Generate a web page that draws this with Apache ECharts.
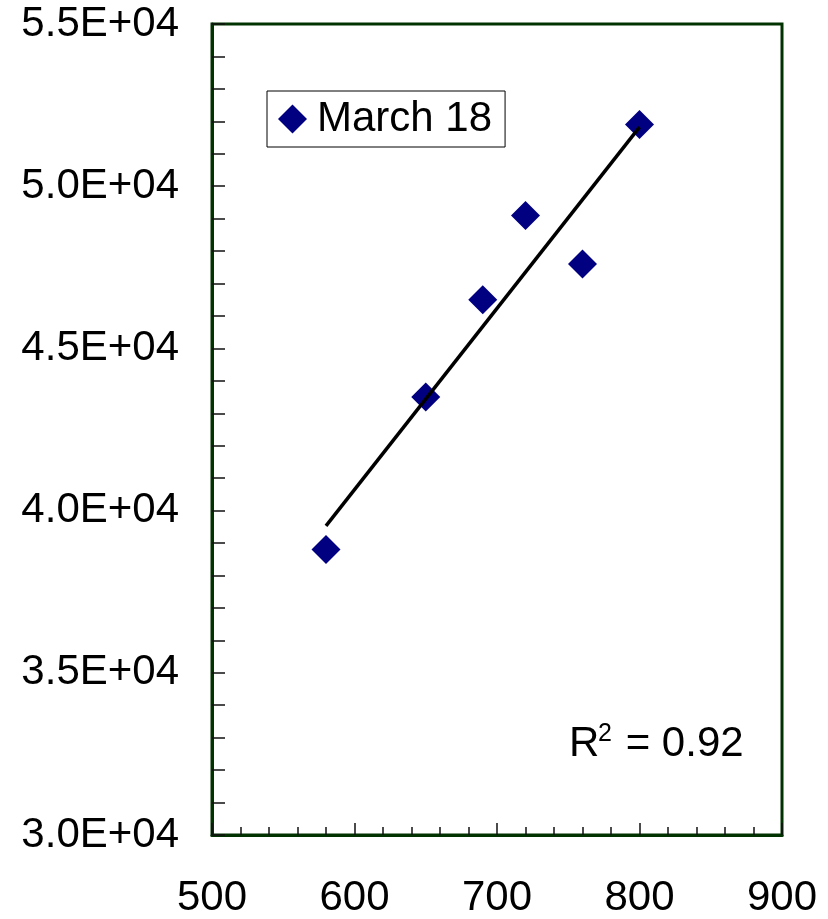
<!DOCTYPE html>
<html>
<head>
<meta charset="utf-8">
<script src="https://cdn.jsdelivr.net/npm/echarts@6/dist/echarts.min.js"></script>
<style>
  html, body { margin: 0; padding: 0; background: #fff; }
  #chart { width: 828px; height: 919px; }
</style>
</head>
<body>
<div id="chart"></div>
<script>
// Observations for March 18
const seriesName = 'March 18';
const xValues = [580, 650, 690, 720, 760, 800];
const yValues = [38800, 43500, 46500, 49100, 47600, 51900];

// Axis ranges
const xTicks = [500, 600, 700, 800, 900];
const yTicks = [30000, 35000, 40000, 45000, 50000, 55000];

// Least-squares fit of the observations
function linearFit(xs, ys) {
  const n = xs.length;
  const mx = xs.reduce((a, b) => a + b, 0) / n;
  const my = ys.reduce((a, b) => a + b, 0) / n;
  let sxy = 0, sxx = 0, syy = 0;
  for (let i = 0; i < n; i++) {
    sxy += (xs[i] - mx) * (ys[i] - my);
    sxx += (xs[i] - mx) ** 2;
    syy += (ys[i] - my) ** 2;
  }
  const slope = sxy / sxx;
  const intercept = my - slope * mx;
  return { slope, intercept, r2: (sxy * sxy) / (sxx * syy) };
}

const fit = linearFit(xValues, yValues);
const xMin = Math.min(...xValues), xMax = Math.max(...xValues);
const fitLine = [
  [xMin, fit.slope * xMin + fit.intercept],
  [xMax, fit.slope * xMax + fit.intercept]
];

function sciLabel(v) {
  if (v === 0) return '0.0E+00';
  const e = Math.floor(Math.log10(Math.abs(v)));
  const m = v / Math.pow(10, e);
  const es = (e < 0 ? '-' : '+') + String(Math.abs(e)).padStart(2, '0');
  return m.toFixed(1) + 'E' + es;
}

const FONT = 'Liberation Sans, Arial, sans-serif';
const FS = 42;
const FRAME = '#003300';
const MARK = '#000080';

const chart = echarts.init(document.getElementById('chart'), null, { renderer: 'canvas' });

chart.setOption({
  animation: false,
  backgroundColor: '#ffffff',
  grid: {
    left: 212, top: 24, right: 46, bottom: 82,
    show: true, borderColor: FRAME, borderWidth: 3, backgroundColor: '#ffffff'
  },
  legend: {
    data: [seriesName],
    left: 267, top: 91,
    orient: 'horizontal',
    icon: 'diamond',
    itemWidth: 29, itemHeight: 29,
    padding: [7, 13, 7, 11],
    borderColor: '#000', borderWidth: 1,
    backgroundColor: '#fff',
    itemStyle: { color: MARK, opacity: 1 },
    textStyle: { fontFamily: FONT, fontSize: FS, color: '#000', padding: [0, 0, 0, 5] }
  },
  xAxis: {
    type: 'value',
    min: xTicks[0], max: xTicks[xTicks.length - 1], interval: 100,
    splitLine: { show: false },
    axisLine: { show: true, lineStyle: { color: FRAME, width: 3 } },
    axisTick: { show: true, inside: true, length: 12, lineStyle: { color: '#111', width: 1.5 } },
    minorTick: { show: true, splitNumber: 5, length: 8, lineStyle: { color: '#111', width: 1.5 } },
    axisLabel: { fontFamily: FONT, fontSize: FS, color: '#000', margin: 42 }
  },
  yAxis: {
    type: 'value',
    min: yTicks[0], max: yTicks[yTicks.length - 1], interval: 5000,
    splitLine: { show: false },
    axisLine: { show: true, lineStyle: { color: FRAME, width: 3 } },
    axisTick: { show: true, inside: true, length: 13, lineStyle: { color: '#111', width: 1.5 } },
    minorTick: { show: true, splitNumber: 5, length: 13, lineStyle: { color: '#111', width: 1.5 } },
    axisLabel: { fontFamily: FONT, fontSize: FS, color: '#000', margin: 33, formatter: sciLabel }
  },
  series: [
    {
      name: seriesName,
      type: 'scatter',
      symbol: 'diamond',
      symbolSize: 29,
      itemStyle: { color: MARK, opacity: 1 },
      data: xValues.map((x, i) => [x, yValues[i]]),
      z: 2
    },
    {
      name: 'Linear fit',
      type: 'line',
      data: fitLine,
      showSymbol: false,
      symbol: 'none',
      lineStyle: { color: '#000', width: 3.5 },
      z: 3
    }
  ],
  graphic: [
    {
      type: 'text', left: 569, top: 723, z: 10,
      style: { text: 'R', font: FS + 'px ' + FONT, fill: '#000' }
    },
    {
      type: 'text', left: 598, top: 722, z: 10,
      style: { text: '2', font: '25px ' + FONT, fill: '#000' }
    },
    {
      type: 'text', left: 614, top: 723, z: 10,
      style: { text: ' = ' + fit.r2.toFixed(2), font: FS + 'px ' + FONT, fill: '#000' }
    }
  ]
});
</script>
</body>
</html>
